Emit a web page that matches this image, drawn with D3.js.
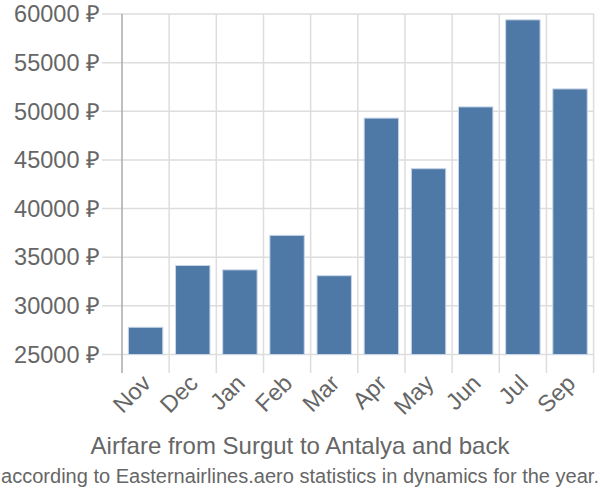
<!DOCTYPE html>
<html><head><meta charset="utf-8">
<script src="https://cdn.jsdelivr.net/npm/d3@7"></script>
<style>body{margin:0;background:#fff}svg{display:block}text{font-family:"Liberation Sans",Arial,sans-serif}</style>
</head><body>
<svg id="c" width="600" height="500"></svg>
<script>
const months = ["Nov","Dec","Jan","Feb","Mar","Apr","May","Jun","Jul","Sep"];
const prices = [27800,34150,33700,37250,33100,49300,44100,50450,59400,52300];
const yTicks = [25000,30000,35000,40000,45000,50000,55000,60000];
const title = "Airfare from Surgut to Antalya and back";
const subtitle = "according to Easternairlines.aero statistics in dynamics for the year.";

const svg = d3.select("#c");
const x = d3.scaleBand().domain(months).range([122, 593.6]).paddingInner(0.27).paddingOuter(0.135);
const xb = d3.scaleBand().domain(months).range([122, 593.6]);
const y = d3.scaleLinear().domain([25000, 60000]).range([354.5, 14]);

svg.append("g").selectAll("line").data(yTicks).join("line")
  .attr("x1", 102).attr("x2", 594)
  .attr("y1", d => y(d)).attr("y2", d => y(d))
  .attr("stroke", "#dddddd").attr("stroke-width", 1.5);
const bounds = months.map(m => xb(m)).concat([xb.range()[1]]);
svg.append("g").selectAll("line").data(bounds).join("line")
  .attr("x1", d => d).attr("x2", d => d)
  .attr("y1", 14).attr("y2", 373)
  .attr("stroke", (d,i) => i === 0 ? "#aaaaaa" : "#dddddd").attr("stroke-width", 1.5);

svg.append("g").selectAll("text").data(yTicks).join("text")
  .attr("x", 100).attr("y", d => y(d)).attr("dy", "0.35em")
  .attr("text-anchor", "end").attr("fill", "#666").attr("font-size", 23.5)
  .text(d => d + " ₽");

svg.append("g").selectAll("rect").data(prices).join("rect")
  .attr("x", (d,i) => x(months[i]))
  .attr("width", x.bandwidth())
  .attr("y", d => y(d))
  .attr("height", d => y(25000) - y(d))
  .attr("fill", "#4e79a7").attr("stroke", "#c9d6e8").attr("stroke-width", 1);

svg.append("g").selectAll("text").data(months).join("text")
  .attr("transform", d => `translate(${xb(d) + xb.bandwidth()/2 - 5},${373}) rotate(-45)`)
  .attr("text-anchor", "end").attr("fill", "#666").attr("font-size", 23.5)
  .attr("dy", "0.7em")
  .text(d => d);

svg.append("text").attr("x", 300).attr("y", 454).attr("text-anchor", "middle")
  .attr("fill", "#666").attr("font-size", 24).text(title);
svg.append("text").attr("x", 300).attr("y", 483).attr("text-anchor", "middle")
  .attr("fill", "#666").attr("font-size", 20)
  .attr("textLength", 598).attr("lengthAdjust", "spacingAndGlyphs").text(subtitle);
</script>
</body></html>
